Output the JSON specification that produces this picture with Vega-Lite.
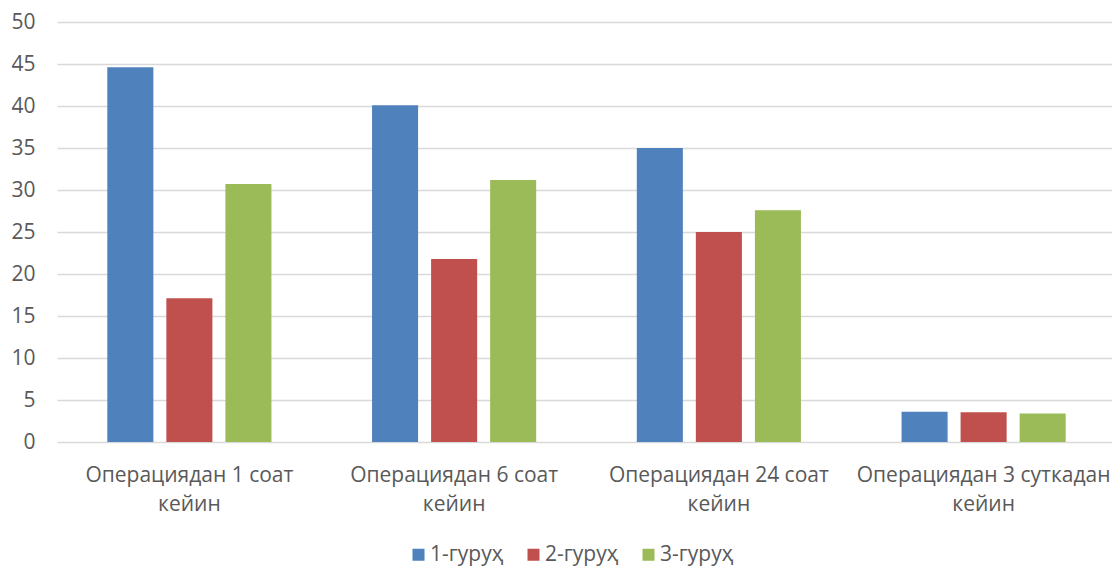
{
  "$schema": "https://vega.github.io/schema/vega-lite/v6.json",
  "autosize": {"type": "none"},
  "width": 1059,
  "height": 420,
  "padding": {"left": 57, "top": 22, "right": 0, "bottom": 127},
  "background": "white",
  "config": {
    "view": {"stroke": null},
    "font": "Open Sans"
  },
  "data": {"values": [
    {"cat": "Операциядан 1 соат кейин", "grp": "1-гуруҳ", "v": 44.6},
    {"cat": "Операциядан 1 соат кейин", "grp": "2-гуруҳ", "v": 17.1},
    {"cat": "Операциядан 1 соат кейин", "grp": "3-гуруҳ", "v": 30.7},
    {"cat": "Операциядан 6 соат кейин", "grp": "1-гуруҳ", "v": 40.1},
    {"cat": "Операциядан 6 соат кейин", "grp": "2-гуруҳ", "v": 21.8},
    {"cat": "Операциядан 6 соат кейин", "grp": "3-гуруҳ", "v": 31.2},
    {"cat": "Операциядан 24 соат кейин", "grp": "1-гуруҳ", "v": 35.0},
    {"cat": "Операциядан 24 соат кейин", "grp": "2-гуруҳ", "v": 25.0},
    {"cat": "Операциядан 24 соат кейин", "grp": "3-гуруҳ", "v": 27.6},
    {"cat": "Операциядан 3 суткадан кейин", "grp": "1-гуруҳ", "v": 3.6},
    {"cat": "Операциядан 3 суткадан кейин", "grp": "2-гуруҳ", "v": 3.55},
    {"cat": "Операциядан 3 суткадан кейин", "grp": "3-гуруҳ", "v": 3.4}
  ]},
  "mark": {"type": "bar"},
  "encoding": {
    "x": {
      "field": "cat", "type": "nominal", "sort": null,
      "scale": {"paddingInner": 0.38, "paddingOuter": 0.19},
      "axis": {
        "title": null, "labelAngle": 0, "labelPadding": 22, "labelLineHeight": 29,
        "labelBaseline": "top", "domain": false, "ticks": false,
        "labelFont": "Open Sans", "labelFontSize": 21, "labelColor": "#595959", "labelLimit": 400,
        "labelExpr": "[slice(datum.label,0,lastindexof(datum.label,' ')), slice(datum.label,lastindexof(datum.label,' ')+1)]"
      }
    },
    "xOffset": {"field": "grp", "type": "nominal", "scale": {"paddingInner": 0.22, "paddingOuter": 0}},
    "y": {
      "field": "v", "type": "quantitative",
      "scale": {"domain": [0, 50], "nice": false},
      "axis": {"title": null, "values": [0,5,10,15,20,25,30,35,40,45,50], "gridColor": "#d9d9d9", "gridWidth": 1.3,
        "labelPadding": 22, "domain": false, "ticks": false,
        "labelFont": "Open Sans", "labelFontSize": 21, "labelColor": "#595959"}
    },
    "color": {
      "field": "grp", "type": "nominal",
      "scale": {"domain": ["1-гуруҳ", "2-гуруҳ", "3-гуруҳ"], "range": ["#4f81bd", "#c0504d", "#9bbb59"]},
      "legend": {
        "title": null, "orient": "none", "direction": "horizontal",
        "legendX": 351, "legendY": 522,
        "symbolType": "square", "symbolSize": 144, "symbolStrokeWidth": 0,
        "labelFontSize": 21, "labelColor": "#595959", "labelFont": "Open Sans",
        "columnPadding": 19, "symbolOffset": 0, "labelOffset": 1
      }
    }
  }
}
